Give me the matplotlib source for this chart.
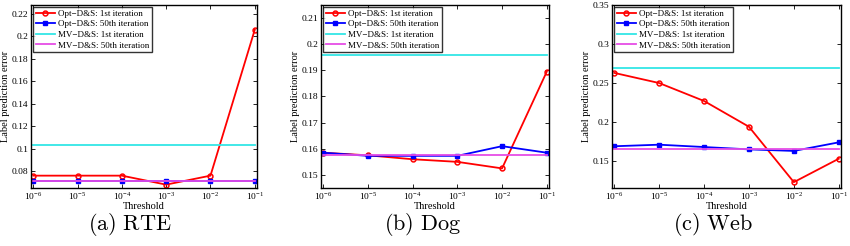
import numpy as np
import matplotlib.pyplot as plt

plt.rcParams['font.family'] = ['Liberation Serif', 'DejaVu Serif']
plt.rcParams['mathtext.fontset'] = 'custom'
plt.rcParams['mathtext.rm'] = 'Liberation Serif'

# Data.
thresholds = [1e-6, 1e-5, 1e-4, 1e-3, 1e-2, 1e-1]
tick_labels = [r'$10^{-6}$', r'$10^{-5}$', r'$10^{-4}$', r'$10^{-3}$', r'$10^{-2}$', r'$10^{-1}$']

rte_opt_1 = [0.076, 0.076, 0.076, 0.068, 0.076, 0.206]
rte_opt_50 = [0.071, 0.071, 0.071, 0.071, 0.071, 0.071]
rte_mv_1 = 0.103
rte_mv_50 = 0.071

dog_opt_1 = [0.1585, 0.1575, 0.156, 0.155, 0.1525, 0.1895]
dog_opt_50 = [0.1585, 0.1573, 0.1573, 0.1573, 0.161, 0.1585]
dog_mv_1 = 0.196
dog_mv_50 = 0.1575

web_opt_1 = [0.263, 0.250, 0.227, 0.194, 0.123, 0.153]
web_opt_50 = [0.169, 0.171, 0.168, 0.165, 0.163, 0.174]
web_mv_1 = 0.269
web_mv_50 = 0.166

panels = [
    ('(a)\\ RTE', rte_opt_1, rte_opt_50, rte_mv_1, rte_mv_50,
     (0.065, 0.228), np.arange(0.08, 0.221, 0.02), ['0.08', '0.1', '0.12', '0.14', '0.16', '0.18', '0.2', '0.22']),
    ('(b)\\ Dog', dog_opt_1, dog_opt_50, dog_mv_1, dog_mv_50,
     (0.145, 0.215), np.arange(0.15, 0.2101, 0.01), ['0.15', '0.16', '0.17', '0.18', '0.19', '0.2', '0.21']),
    ('(c)\\ Web', web_opt_1, web_opt_50, web_mv_1, web_mv_50,
     (0.1155, 0.35), np.arange(0.15, 0.3501, 0.05), ['0.15', '0.2', '0.25', '0.3', '0.35']),
]

# Axes positions in pixels: left, right (top 5, bottom 188).
boxes = [(31, 257), (321, 549), (612, 841)]
caption_x = [130, 422, 713]

W, H = 850, 246
fig = plt.figure(figsize=(W / 100, H / 100), dpi=100)

for i, (cap, opt1, opt50, mv1, mv50, ylim, yt, ytl) in enumerate(panels):
    l, r = boxes[i]
    top, bot = 5, 188
    ax = fig.add_axes([l / W, 1 - bot / H, (r - l) / W, (bot - top) / H])
    x = np.arange(len(thresholds))

    ax.plot(x, opt1, '-o', color='red', lw=1.3, ms=3.5, mfc='none', mew=1.1,
            label='Opt\u2212D&S: 1st iteration')
    ax.plot(x, opt50, '-s', color='blue', lw=1.3, ms=3, mfc='blue',
            label='Opt\u2212D&S: 50th iteration')
    ax.plot(x, [mv1] * len(x), '-', color='#33e6e6', lw=1.3,
            label='MV\u2212D&S: 1st iteration')
    ax.plot(x, [mv50] * len(x), '-', color='#e64de6', lw=1.3,
            label='MV\u2212D&S: 50th iteration')

    ax.set_xlim(-0.05, 5.05)
    ax.set_ylim(*ylim)
    ax.set_xticks(x)
    ax.set_xticklabels(tick_labels)
    ax.set_yticks(yt)
    ax.set_yticklabels(ytl)
    ax.tick_params(direction='in', length=3, width=0.6, labelsize=6.8, pad=2,
                   top=True, right=True)
    for s in ax.spines.values():
        s.set_linewidth(1.0)
    ax.set_xlabel('Threshold', fontsize=7.5, labelpad=0)
    ax.set_ylabel('Label prediction error', fontsize=7.5, labelpad=1)

    leg = ax.legend(loc='upper left', fontsize=6.5, handlelength=2.2, handletextpad=0.3,
                    borderpad=0.3, labelspacing=0.25, borderaxespad=0.2, fancybox=False)
    leg.get_frame().set_edgecolor('black')
    leg.get_frame().set_linewidth(1.0)

    fig.text(caption_x[i] / W, 1 - 224 / H, '$\\mathrm{' + cap + '}$', fontsize=16,
             ha='center', va='center', math_fontfamily='cm')

fig.savefig('out.png', dpi=100)
